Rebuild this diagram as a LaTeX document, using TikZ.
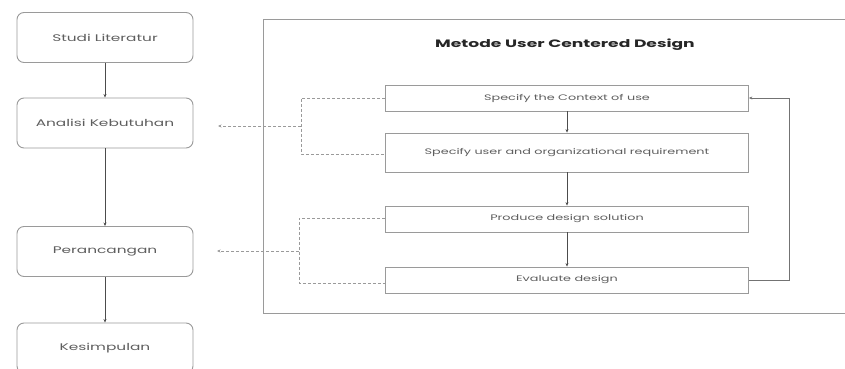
\documentclass[tikz,border=0pt]{standalone}
\usepackage{fontspec}
\setmainfont{Poppins}[FakeStretch=1.6]
\usetikzlibrary{arrows.meta}
\definecolor{boxgray}{HTML}{9A9A9A}
\definecolor{txtgray}{HTML}{5E5E5E}
\tikzset{
  leftbox/.style={draw=boxgray, line width=0.9pt, rounded corners=7pt, minimum width=176pt, minimum height=50pt, inner sep=0pt, text=txtgray, font=\fontsize{9.6}{11}\selectfont},
  stepbox/.style={draw=boxgray, line width=0.8pt, minimum width=363pt, inner sep=0pt, text=txtgray, font=\fontsize{8}{9}\selectfont},
  arr/.style={draw=black!70, line width=0.6pt, -{Stealth[length=3.5pt,width=3pt]}},
  fbarr/.style={draw=black!55, line width=0.7pt, -{Stealth[length=3.5pt,width=3pt]}},
  dsh/.style={draw=boxgray, line width=0.6pt, dash pattern=on 3pt off 2pt},
  darr/.style={dsh, -{Stealth[length=3.5pt,width=3pt]}},
}
\begin{document}
\begin{tikzpicture}[x=1pt,y=-1pt]
\clip (0,0) rectangle (845,369);
\fill[white] (0,0) rectangle (845,369);
% left column
\node[leftbox] (studi) at (105,37.5) {Studi Literatur};
\node[leftbox] (analisi) at (105,123) {Analisi Kebutuhan};
\node[leftbox] (peran) at (105,251.5) {Perancangan};
\node[leftbox] (kesim) at (105,348) {Kesimpulan};
\draw[arr] (studi) -- (analisi);
\draw[arr] (analisi) -- (peran);
\draw[arr] (peran) -- (kesim);
% container
\draw[draw=boxgray, line width=0.9pt] (263,19) rectangle (860,313);
\node[font=\bfseries\fontsize{10.7}{12}\selectfont, text=black!85] (title) at (565,45) {Metode User Centered Design};
% steps
\node[stepbox, minimum height=26pt] (s1) at (567,98) {Specify the Context of use};
\node[stepbox, minimum height=39pt] (s2) at (567,152.5) {Specify user and organizational requirement};
\node[stepbox, minimum height=26pt] (s3) at (567,219) {Produce design solution};
\node[stepbox, minimum height=26pt] (s4) at (567,280) {Evaluate design};
\draw[arr] (s1) -- (s2);
\draw[arr] (s2) -- (s3);
\draw[arr] (s3) -- (s4);
\coordinate (fb1) at (789,280);
\coordinate (fb2) at (789,98);
\draw[fbarr] (s4.east) -- (fb1) -- (fb2) -- (s1.east);
% dashed brackets
\coordinate (b1t) at (301,98);
\coordinate (b1b) at (301,154);
\coordinate (b1m) at (301,126);
\draw[dsh] (s1.west) -- (b1t) -- (b1b) -- (s2.west |- b1b);
\draw[darr] (b1m) -- (218,126);
\coordinate (b2t) at (299,218);
\coordinate (b2b) at (299,283);
\coordinate (b2m) at (299,251);
\draw[dsh] (s3.west |- b2t) -- (b2t) -- (b2b) -- (s4.west |- b2b);
\draw[darr] (b2m) -- (217,251);
\end{tikzpicture}
\end{document}
